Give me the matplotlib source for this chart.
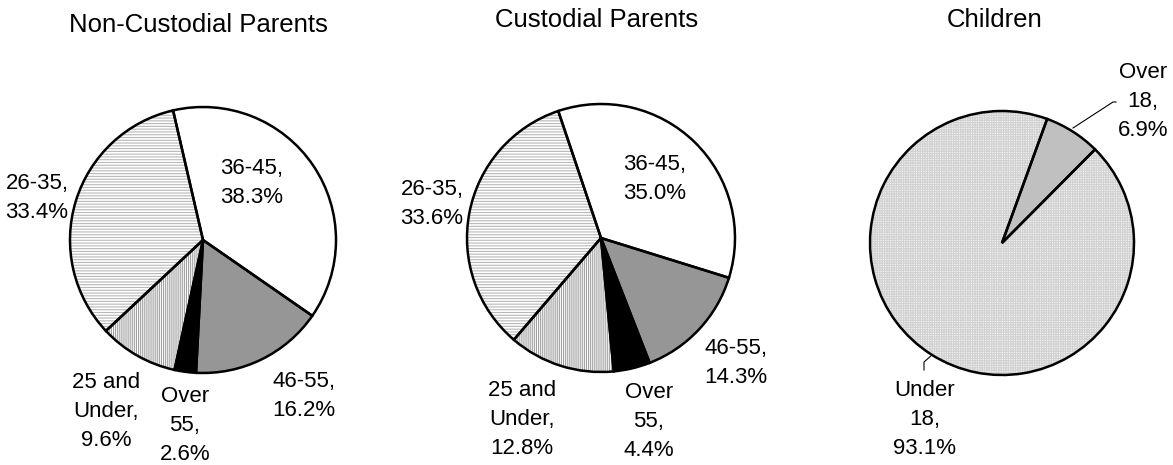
import matplotlib
matplotlib.use("Agg")
import matplotlib.pyplot as plt

# ---------------- data ----------------
categories = ["36-45", "46-55", "Over 55", "25 and Under", "26-35"]
cat_display = ["36-45", "46-55", "Over\n55", "25 and\nUnder", "26-35"]
noncustodial = [38.3, 16.2, 2.6, 9.6, 33.4]
custodial = [35.0, 14.3, 4.4, 12.8, 33.6]

child_categories = ["Over 18", "Under 18"]
child_display = ["Over\n18", "Under\n18"]
children = [6.9, 93.1]

titles = ["Non-Custodial Parents", "Custodial Parents", "Children"]

# ---------------- layout (pixels) ----------------
W, H = 1173, 465
plt.rcParams["hatch.linewidth"] = 0.8
FONT = "Liberation Sans"

fig = plt.figure(figsize=(W / 100, H / 100), dpi=100)
ax = fig.add_axes([0, 0, 1, 1])


def Y(y):
    return H - y


age_fill = ["white", "#969696", "black", "white", "white"]
age_hatch = [None, None, None, "||||||||", "------"]
age_hcol = ["white", "#969696", "black", "#a0a0a0", "#b8b8b8"]


def draw_pie(values, center, r, start, fills, hatches, hcols):
    cx, cy = center
    wedges, _ = ax.pie(values, colors=fills, startangle=start, counterclock=False,
                       center=(cx, Y(cy)), radius=r, frame=True,
                       wedgeprops=dict(linewidth=0))
    for w, h, hc in zip(wedges, hatches, hcols):
        w.set_edgecolor(hc)
        if h:
            w.set_hatch(h)
    ax.pie(values, colors=["none"] * len(values), startangle=start, counterclock=False,
           center=(cx, Y(cy)), radius=r, frame=True,
           wedgeprops=dict(linewidth=1.8, edgecolor="black", facecolor="none"))


draw_pie(noncustodial, (203, 240), 133, 103, age_fill, age_hatch, age_hcol)
draw_pie(custodial, (601, 238), 134, 108.6, age_fill, age_hatch, age_hcol)
draw_pie(children, (1002, 243), 132, 70, ["#c0c0c0", "#f2f2f2"],
         [None, "+++++++"], ["#c0c0c0", "#d2d2d2"])

# titles
title_pos = [(198, 25), (597, 20), (995, 20)]
for t, (x, y) in zip(titles, title_pos):
    ax.text(x, Y(y), t, ha="center", va="center", fontsize=18.5, family=FONT)

LS = 1.5
FS = 16
nc_pos = [(252, 183), (304, 396), (185, 425), (106, 412), (37, 198)]
c_pos = [(655, 179), (736, 363), (649, 421), (522, 420), (432, 204)]
for vals, pos in ((noncustodial, nc_pos), (custodial, c_pos)):
    for name, v, (x, y) in zip(cat_display, vals, pos):
        ax.text(x, Y(y), f"{name},\n{v:.1f}%", ha="center", va="center",
                multialignment="center", fontsize=FS, family=FONT, linespacing=LS)

ch_pos = [(1143, 102), (925, 419)]
for name, v, (x, y) in zip(child_display, children, ch_pos):
    ax.text(x, Y(y), f"{name},\n{v:.1f}%", ha="center", va="center",
            multialignment="center", fontsize=FS, family=FONT, linespacing=LS)

# leader lines (children)
ax.plot([1116, 1113, 1073], [Y(102), Y(102), Y(128)], color="black", lw=0.8)
ax.plot([924, 924, 932], [Y(370), Y(362), Y(355)], color="black", lw=0.8)

ax.set_xlim(0, W)
ax.set_ylim(0, H)
ax.set_aspect("equal")
ax.axis("off")

fig.savefig("out.png", dpi=100, facecolor="white")
